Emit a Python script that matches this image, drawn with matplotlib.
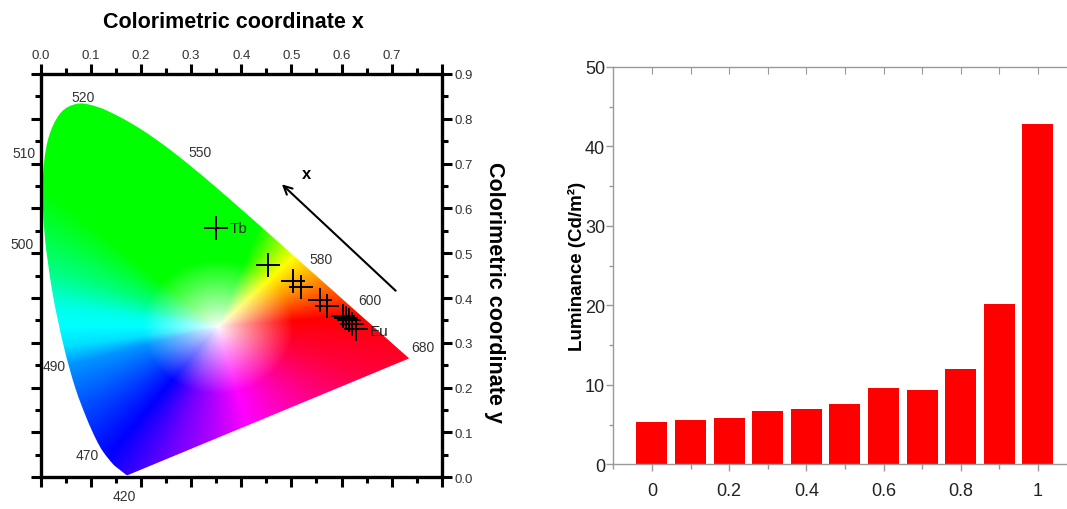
import matplotlib.pyplot as plt
import numpy as np
from matplotlib.path import Path
from matplotlib.patches import PathPatch
from matplotlib.colors import hsv_to_rgb
from matplotlib.ticker import MultipleLocator

plt.rcParams['font.family'] = ['Liberation Sans', 'DejaVu Sans']

# CIE 1931 spectral locus
locus_nm = [380, 400, 410, 420, 430, 440, 450, 460, 470, 475, 480, 485, 490, 495,
            500, 505, 510, 515, 520, 525, 530, 535, 540, 545, 550, 555, 560, 565,
            570, 575, 580, 585, 590, 595, 600, 610, 620, 630, 640, 650, 660, 680, 700]
locus_x = [0.1741, 0.1733, 0.1726, 0.1714, 0.1689, 0.1644, 0.1566, 0.1440, 0.1241, 0.1096,
           0.0913, 0.0687, 0.0454, 0.0235, 0.0082, 0.0039, 0.0139, 0.0389, 0.0743, 0.1142,
           0.1547, 0.1929, 0.2296, 0.2658, 0.3016, 0.3373, 0.3731, 0.4087, 0.4441, 0.4788,
           0.5125, 0.5448, 0.5752, 0.6029, 0.6270, 0.6658, 0.6915, 0.7079, 0.7190, 0.7260,
           0.7300, 0.7347, 0.7347]
locus_y = [0.0050, 0.0048, 0.0048, 0.0051, 0.0069, 0.0109, 0.0177, 0.0297, 0.0578, 0.0868,
           0.1327, 0.2007, 0.2950, 0.4127, 0.5384, 0.6548, 0.7502, 0.8120, 0.8338, 0.8262,
           0.8059, 0.7816, 0.7543, 0.7243, 0.6923, 0.6589, 0.6245, 0.5896, 0.5547, 0.5202,
           0.4866, 0.4544, 0.4242, 0.3965, 0.3725, 0.3340, 0.3083, 0.2920, 0.2809, 0.2740,
           0.2700, 0.2653, 0.2653]

# wavelengths written along the locus
marked_nm = [520, 550, 510, 500, 490, 470, 420, 580, 600, 680]

# chromaticity of the samples, Tb end (x = 0) to Eu end (x = 1)
cie_x = [0.349, 0.454, 0.503, 0.519, 0.557, 0.571, 0.602, 0.608, 0.614, 0.621, 0.629]
cie_y = [0.556, 0.473, 0.439, 0.425, 0.396, 0.383, 0.361, 0.356, 0.350, 0.343, 0.331]

# luminance against Eu fraction x
comp_x = [0.0, 0.1, 0.2, 0.3, 0.4, 0.5, 0.6, 0.7, 0.8, 0.9, 1.0]
luminance = [5.36, 5.62, 5.78, 6.66, 6.96, 7.63, 9.56, 9.39, 11.94, 20.12, 42.83]


def hue_fill(x, y, white=(0.352, 0.335)):
    # hue follows the direction seen from the white point, saturation the distance
    dx = x - white[0]
    dy = y - white[1]
    ang = np.degrees(np.arctan2(dy, dx))
    ang_pts = [-180, -172, -164, -127, -109, -75, -20, 5, 25, 46, 70, 138, 159, 172, 180]
    hue_pts = [180, 187, 205, 240, 265, 300, 345, 360, 390, 420, 480, 480, 510, 535, 540]
    hue = (np.interp(ang, ang_pts, hue_pts) % 360) / 360
    sat = np.clip(np.hypot(dx, dy) / 0.15, 0, 1) ** 0.85
    return hsv_to_rgb(np.stack([hue, sat, np.ones_like(hue)], axis=-1))


def smooth_path(px, py):
    # Catmull-Rom through the locus points as cubic Bezier pieces,
    # closed by the straight purple line
    pts = np.column_stack([px, py])
    n = len(pts)
    verts = [pts[0]]
    codes = [Path.MOVETO]
    for i in range(n - 1):
        p0 = pts[max(i - 1, 0)]
        p1 = pts[i]
        p2 = pts[i + 1]
        p3 = pts[min(i + 2, n - 1)]
        verts += [p1 + (p2 - p0) / 6, p2 - (p3 - p1) / 6, p2]
        codes += [Path.CURVE4] * 3
    verts += [pts[0], pts[0]]
    codes += [Path.LINETO, Path.CLOSEPOLY]
    return Path(np.array(verts), codes)


fig = plt.figure(figsize=(10.67, 5.10), dpi=100)

# ---- chromaticity diagram ----
ax = fig.add_axes([0.0381, 0.0622, 0.3760, 0.7908])
gx, gy = np.meshgrid(np.linspace(0, 0.8, 800), np.linspace(0, 0.9, 900))
im = ax.imshow(hue_fill(gx, gy), extent=(0, 0.8, 0, 0.9), origin='lower', aspect='auto',
               interpolation='bilinear', zorder=1)
locus = PathPatch(smooth_path(locus_x, locus_y), transform=ax.transData,
                  facecolor='none', edgecolor='none')
ax.add_patch(locus)
im.set_clip_path(locus)

ax.plot(cie_x, cie_y, linestyle='none', marker='+', markersize=17,
        markeredgewidth=1.4, color='black', zorder=3)
ax.text(cie_x[0] + 0.027, cie_y[0], 'Tb', fontsize=11, va='center', ha='left', color='#222222')
ax.text(cie_x[-1] + 0.027, cie_y[-1] - 0.005, 'Eu', fontsize=11, va='center', ha='left',
        color='#222222')

offsets = {520: (5, 7), 550: (8, 15), 510: (-24, -12), 500: (-23, -8), 490: (-9, -21),
           470: (-16, -4), 420: (-2, -21), 580: (23, 0), 600: (15, 10), 680: (14, 11)}
for nm in marked_nm:
    i = locus_nm.index(nm)
    ax.annotate(str(nm), xy=(locus_x[i], locus_y[i]), xytext=offsets[nm],
                textcoords='offset pixels', ha='center', va='center',
                fontsize=10, color='#333333', annotation_clip=False)

ax.annotate('', xy=(0.477, 0.658), xytext=(0.712, 0.412),
            arrowprops=dict(arrowstyle='->', lw=1.5, color='black', mutation_scale=15))
ax.text(0.531, 0.678, 'x', fontsize=12, fontweight='bold', ha='center', va='center')

ax.set_xlim(0, 0.8)
ax.set_ylim(0, 0.9)
ax.set_xticks(np.arange(0, 0.81, 0.1))
ax.set_xticklabels(['0.0', '0.1', '0.2', '0.3', '0.4', '0.5', '0.6', '0.7', ''])
ax.set_yticks(np.arange(0, 0.91, 0.1))
ax.set_yticklabels([f'{v:.1f}' for v in np.arange(0, 0.91, 0.1)])
ax.xaxis.set_minor_locator(MultipleLocator(0.05))
ax.yaxis.set_minor_locator(MultipleLocator(0.05))
ax.tick_params(which='both', direction='out', width=2.2, color='black',
               top=True, bottom=True, left=True, right=True,
               labeltop=True, labelbottom=False, labelleft=False, labelright=True)
ax.tick_params(which='major', length=7, labelsize=9.5, labelcolor='#333333', pad=2)
ax.tick_params(which='minor', length=4.5)
for s in ax.spines.values():
    s.set_linewidth(2.4)

ax.xaxis.set_label_position('top')
ax.set_xlabel('Colorimetric coordinate x', fontsize=15.5, fontweight='bold', labelpad=16)
ax.xaxis.label.set_x(0.48)
ax.yaxis.set_label_position('right')
ax.set_ylabel('Colorimetric coordinate y', fontsize=15.5, fontweight='bold',
              rotation=-90, va='bottom', labelpad=8)
ax.yaxis.label.set_y(0.46)

# ---- luminance bars ----
ax2 = fig.add_axes([0.5748, 0.0876, 0.4341, 0.7794])
ax2.bar(comp_x, luminance, width=0.08, color='#ff0000', zorder=2)
ax2.set_xlim(-0.1, 1.1)
ax2.set_ylim(0, 50)
ax2.set_xticks([0, 0.2, 0.4, 0.6, 0.8, 1.0])
ax2.set_xticklabels(['0', '0.2', '0.4', '0.6', '0.8', '1'])
ax2.xaxis.set_minor_locator(MultipleLocator(0.1))
ax2.yaxis.set_minor_locator(MultipleLocator(5))
ax2.tick_params(which='both', color='#999999', width=1, labelcolor='#222222')
ax2.tick_params(axis='x', which='major', direction='out', length=5, labelsize=13, pad=8)
ax2.tick_params(axis='x', which='minor', direction='out', length=3.5)
ax2.tick_params(axis='y', which='major', direction='out', length=5, labelsize=13, pad=1)
ax2.tick_params(axis='y', which='minor', direction='out', length=3)
for s in ax2.spines.values():
    s.set_color('#999999')
    s.set_linewidth(1)

# top edge carries inward ticks of its own
sec = ax2.secondary_xaxis('top')
sec.set_xticks(comp_x)
sec.tick_params(direction='in', length=5, color='#999999', labeltop=False)
sec.spines['top'].set_visible(False)

ax2.set_ylabel('Luminance (Cd/m²)', fontsize=13.5, fontweight='bold', labelpad=-1)
ax2.set_xlabel('x', fontsize=13, fontweight='bold', labelpad=6)

fig.savefig('out.png', dpi=100)
